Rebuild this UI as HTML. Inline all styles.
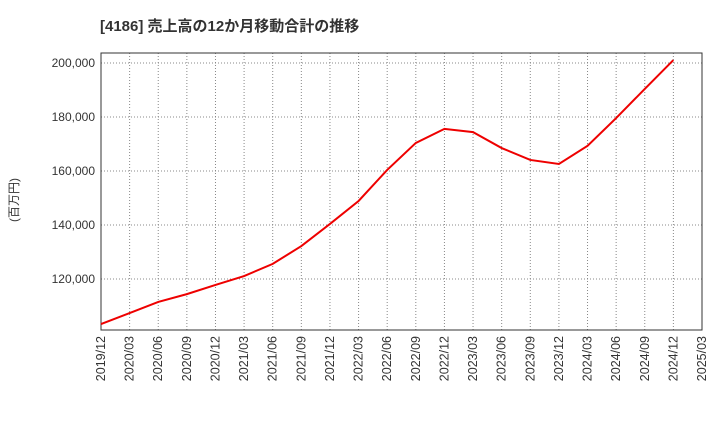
<!DOCTYPE html>
<html><head><meta charset="utf-8"><style>
body{margin:0;background:#fff;font-family:"Liberation Sans","Noto Sans CJK JP",sans-serif}
</style></head><body>
<svg width="720" height="440" id="c" xmlns="http://www.w3.org/2000/svg">
<text x="100" y="31" font-size="15" font-weight="bold" fill="#333">[4186]  売上高の12か月移動合計の推移</text>
<text transform="translate(18,200) rotate(-90)" font-size="12" fill="#333" text-anchor="middle">(百万円)</text>
<g id="g"></g>
</svg>
<script>
const xLabels=["2019/12","2020/03","2020/06","2020/09","2020/12","2021/03","2021/06","2021/09","2021/12","2022/03","2022/06","2022/09","2022/12","2023/03","2023/06","2023/09","2023/12","2024/03","2024/06","2024/09","2024/12","2025/03"];
const yTicks=[120000,140000,160000,180000,200000];
const values=[103300,107400,111500,114400,117800,121100,125600,132200,140400,148900,160400,170400,175600,174400,168500,164100,162600,169300,179600,190400,201100];
const L=101,R=702,T=53,B=330;
const x=i=>L+i*(R-L)/(xLabels.length-1);
const y=v=>279-(v-120000)/20000*54;
const g=document.getElementById('g');
const NS="http://www.w3.org/2000/svg";
function mk(t,a){const e=document.createElementNS(NS,t);for(const k in a)e.setAttribute(k,a[k]);g.appendChild(e);return e;}
xLabels.forEach((lab,i)=>{
 const l=mk('line',{x1:x(i),x2:x(i),y1:T,y2:B,stroke:'#888','stroke-dasharray':'1,2','stroke-width':1});
 
 
 const t=mk('text',{transform:`translate(${x(i)+4},${B+6}) rotate(-90)`,'font-size':12.5,fill:'#333','text-anchor':'end'});
 t.textContent=lab;
 
 
});
yTicks.forEach(v=>{
 const l=mk('line',{x1:L,x2:R,y1:y(v),y2:y(v),stroke:'#888','stroke-dasharray':'1,2','stroke-width':1});
 
 
 const t=mk('text',{x:L-6,y:y(v)+4,'font-size':12,fill:'#333','text-anchor':'end'});
 t.textContent=v.toLocaleString('en-US');
 
 
});
const f=mk('rect',{x:L,y:T,width:R-L,height:B-T,fill:'none',stroke:'#333','stroke-width':1});


const p=mk('polyline',{points:values.map((v,i)=>x(i)+','+y(v)).join(' '),fill:'none',stroke:'#e00','stroke-width':2});


</script>
</body></html>
